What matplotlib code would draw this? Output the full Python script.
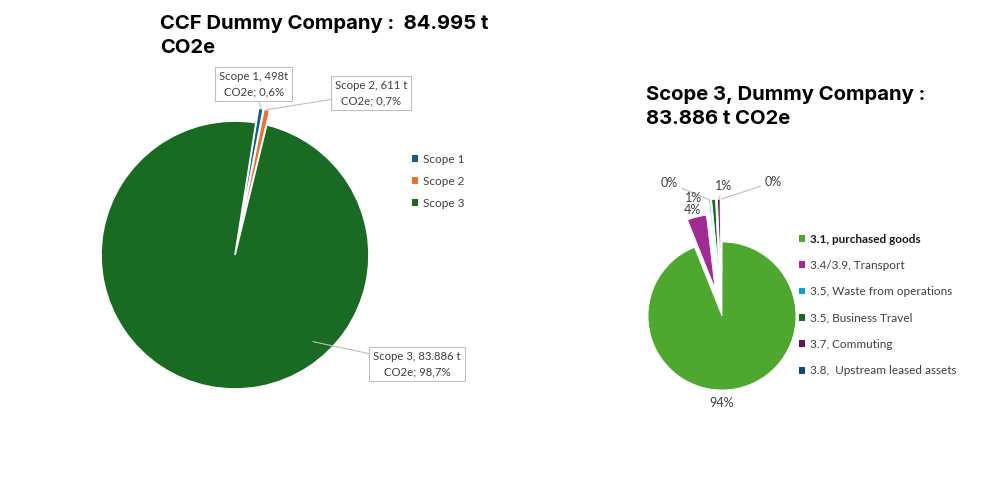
import numpy as np
import matplotlib.pyplot as plt
from matplotlib.patches import Patch

# Gesamt-CCF nach Scope
scope_names = ['Scope 1', 'Scope 2', 'Scope 3']
scope_values = [498, 611, 83886]
scope_value_txt = ['498t', '611 t', '83.886 t']
scope_colors = ['#156082', '#E97132', '#196B24']

# Scope 3 nach Kategorie (t CO2e)
cat_names = ['3.1, purchased goods', '3.4/3.9, Transport', '3.5, Waste from operations',
             '3.5, Business Travel', '3.7, Commuting', '3.8,  Upstream leased assets']
cat_values = [78800, 3520, 250, 700, 480, 136]
cat_colors = ['#4EA72E', '#A02B93', '#0F9ED5', '#196B24', '#60175A', '#0E4D6B']

plt.rcParams['font.family'] = ['Lato', 'DejaVu Sans']
txt_col = '#404040'


def fmt_t(v):
    return f"{v:,}".replace(',', '.')


def wedge_point(w, r=1.0):
    mid = np.deg2rad((w.theta1 + w.theta2) / 2)
    cx, cy = w.center
    return cx + r * w.r * np.cos(mid), cy + r * w.r * np.sin(mid)


def square_handles(colors):
    return [Patch(facecolor=c, edgecolor='none') for c in colors]


fig = plt.figure(figsize=(9.81, 5), dpi=100)

# ---- linkes Diagramm ----
ax1 = fig.add_axes([(235 - 201) / 981, (245 - 201) / 500, 402 / 981, 402 / 500])
w1, _ = ax1.pie(scope_values, colors=scope_colors, startangle=81, counterclock=False,
                explode=[0.11, 0.11, 0.0],
                wedgeprops=dict(edgecolor='white', linewidth=1.2))
ax1.set_xlim(-1.5, 1.5)
ax1.set_ylim(-1.5, 1.5)
ax1.set_aspect('equal')
ax1.axis('off')

total = sum(scope_values)
box = dict(boxstyle='square,pad=0.35', fc='white', ec='#bfbfbf', lw=0.8)
lbl_pos = [(0.14, 1.276), (1.015, 1.209), (1.36, -0.813)]
anchor_r = [1.0, 1.0, None]
for i, w in enumerate(w1):
    pct = f"{100 * scope_values[i] / total:.1f}".replace('.', ',')
    txt = f"{scope_names[i]}, {scope_value_txt[i]}\nCO2e; {pct}%"
    if anchor_r[i] is None:
        a = np.deg2rad(-48)
        xy = (0.87 * np.cos(a), 0.87 * np.sin(a))
    else:
        xy = wedge_point(w, anchor_r[i])
    ax1.annotate(txt, xy=xy, xytext=lbl_pos[i], ha='center', va='center',
                 fontsize=8.2, color=txt_col, linespacing=1.45, bbox=box,
                 arrowprops=dict(arrowstyle='-', color='#bfbfbf', lw=0.8,
                                 shrinkA=0, shrinkB=0))

fig.text(160 / 981, 1 - 15 / 500,
         f"CCF Dummy Company :  {fmt_t(total)} t\nCO2e",
         fontsize=14.6, fontweight='bold', family=['Inter', 'DejaVu Sans'],
         va='top', ha='left', linespacing=1.4)

leg1 = fig.legend(square_handles(scope_colors), scope_names, loc='upper left',
                  bbox_to_anchor=(401 / 981, 1 - 143 / 500),
                  frameon=False, fontsize=8.5, handlelength=0.5, handleheight=0.5,
                  handletextpad=0.5, labelspacing=0.95, labelcolor=txt_col)

# ---- rechtes Diagramm ----
ax2 = fig.add_axes([(722 - 148) / 981, (184 - 148) / 500, 296 / 981, 296 / 500])
w2, _ = ax2.pie(cat_values, colors=cat_colors, startangle=90, counterclock=False,
                explode=[0.0, 0.38, 0.58, 0.58, 0.58, 0.58],
                wedgeprops=dict(edgecolor='white', linewidth=0.6))
ax2.set_xlim(-2, 2)
ax2.set_ylim(-2, 2)
ax2.set_aspect('equal')
ax2.axis('off')

cat_total = sum(cat_values)
pct_pos = [(0.0, -1.18), (-0.405, 1.432), (-0.716, 1.80), (-0.39, 1.60), (0.02, 1.76), (0.69, 1.81)]
leader = [False, False, True, False, True, True]
for i, w in enumerate(w2):
    txt = f"{round(100 * cat_values[i] / cat_total)}%"
    if leader[i]:
        ax2.annotate(txt, xy=wedge_point(w, 1.0), xytext=pct_pos[i], ha='center', va='center',
                     fontsize=9, color=txt_col,
                     arrowprops=dict(arrowstyle='-', color='#bfbfbf', lw=0.8,
                                     shrinkA=1, shrinkB=0))
    else:
        ax2.text(pct_pos[i][0], pct_pos[i][1], txt, ha='center', va='center',
                 fontsize=9, color=txt_col)

fig.text(646 / 981, 1 - 86 / 500,
         f"Scope 3, Dummy Company :\n{fmt_t(cat_total)} t CO2e",
         fontsize=14.6, fontweight='bold', family=['Inter', 'DejaVu Sans'],
         va='top', ha='left', linespacing=1.4)

leg2 = fig.legend(square_handles(cat_colors), cat_names, loc='upper left',
                  bbox_to_anchor=(788 / 981, 1 - 223 / 500),
                  frameon=False, fontsize=8.5, handlelength=0.5, handleheight=0.5,
                  handletextpad=0.5, labelspacing=1.3, labelcolor=txt_col)
leg2.get_texts()[0].set_fontweight('bold')
leg2.get_texts()[0].set_color('#1a1a1a')

fig.savefig('out.png', dpi=100, facecolor='white')
